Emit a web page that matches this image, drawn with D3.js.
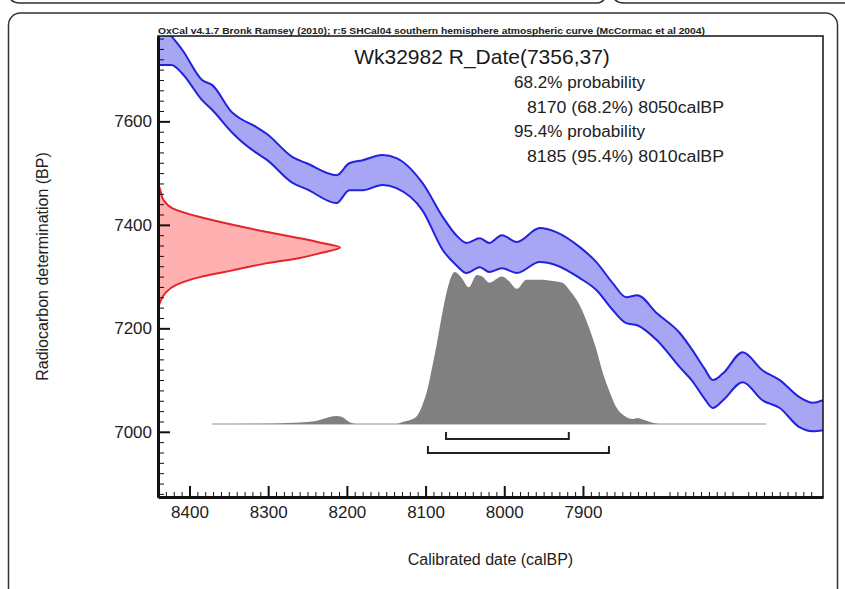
<!DOCTYPE html>
<html>
<head>
<meta charset="utf-8">
<script src="https://cdn.jsdelivr.net/npm/d3@7"></script>
<style>
body { margin: 0; background: #fff; }
svg { display: block; font-family: "Liberation Sans", Arial, sans-serif; }
</style>
</head>
<body>
<svg id="chart" width="845" height="589"></svg>
<script>
// calibration curve band (calBP -> BP upper / lower)
const curveYears = [8440, 8423, 8409, 8384, 8371, 8345, 8336, 8315, 8302, 8269, 8251, 8213, 8197, 8180, 8155, 8137, 8104, 8078, 8061, 8048, 8031, 8019, 8003, 7984, 7955, 7934, 7904, 7883, 7862, 7845, 7831, 7806, 7777, 7761, 7746, 7735, 7722, 7697, 7672, 7650, 7625, 7608, 7595];
const curveUpper = [7800, 7765, 7738, 7680, 7670, 7616, 7606, 7589, 7576, 7531, 7519, 7496, 7519, 7525, 7535, 7529, 7481, 7415, 7380, 7365, 7374, 7365, 7380, 7367, 7394, 7386, 7357, 7328, 7287, 7260, 7264, 7229, 7191, 7158, 7123, 7100, 7113, 7154, 7119, 7100, 7067, 7056, 7061];
const curveLower = [7709, 7709, 7692, 7641, 7622, 7577, 7564, 7539, 7526, 7481, 7469, 7442, 7467, 7467, 7477, 7471, 7428, 7351, 7322, 7307, 7318, 7309, 7316, 7307, 7328, 7322, 7297, 7274, 7235, 7210, 7206, 7177, 7125, 7098, 7065, 7046, 7061, 7096, 7061, 7046, 7009, 7001, 7003];

// radiocarbon measurement (BP, relative density)
const dateBP = [7478, 7470, 7448, 7432, 7415, 7400, 7386, 7374, 7365, 7356, 7346, 7336, 7326, 7312, 7299, 7284, 7268, 7249, 7240];
const dateDensity = [0, 0.01, 0.03, 0.08, 0.23, 0.41, 0.60, 0.78, 0.90, 1, 0.90, 0.78, 0.60, 0.41, 0.23, 0.10, 0.04, 0.01, 0];

// calibrated distribution (calBP, relative probability)
const calYears = [8371, 8290, 8260, 8239, 8222, 8213, 8206, 8197, 8188, 8137, 8129, 8120, 8111, 8104, 8098, 8091, 8086, 8078, 8070, 8063, 8054, 8045, 8035, 8028, 8019, 8003, 7996, 7984, 7972, 7955, 7936, 7926, 7917, 7904, 7892, 7883, 7875, 7866, 7857, 7847, 7837, 7831, 7822, 7803, 7667];
const calProb = [0, 0.004, 0.01, 0.02, 0.046, 0.053, 0.046, 0.013, 0, 0, 0.013, 0.026, 0.053, 0.125, 0.22, 0.39, 0.52, 0.75, 0.93, 1, 0.96, 0.90, 0.98, 0.97, 0.93, 0.97, 0.95, 0.89, 0.95, 0.95, 0.94, 0.93, 0.88, 0.78, 0.63, 0.49, 0.34, 0.21, 0.105, 0.053, 0.033, 0.04, 0.026, 0, 0];

// ranges drawn as brackets under the distribution
const range68 = [8074, 7918];
const range95 = [8097, 7867];

const xTicks = [8400, 8300, 8200, 8100, 8000, 7900];
const yTicks = [7000, 7200, 7400, 7600];

const headerText = "OxCal v4.1.7 Bronk Ramsey (2010); r:5 SHCal04 southern hemisphere atmospheric curve (McCormac et al 2004)";
const titleText = "Wk32982 R_Date(7356,37)";
const probLines = ["68.2% probability", "8170 (68.2%) 8050calBP", "95.4% probability", "8185 (95.4%) 8010calBP"];

const svg = d3.select("#chart");
const margin = {top: 36, right: 22, bottom: 92, left: 158};
const W = +svg.attr("width"), H = +svg.attr("height");
const innerW = W - margin.left - margin.right;
const innerH = H - margin.top - margin.bottom;

// outer panel borders (page furniture)
svg.append("path")
  .attr("d", "M8,-10 Q8,3 20,3 H597 Q606,3 606,-10")
  .attr("fill", "none").attr("stroke", "#333").attr("stroke-width", 1.5);
svg.append("path")
  .attr("d", "M612,-10 Q612,3 624,3 H845")
  .attr("fill", "none").attr("stroke", "#333").attr("stroke-width", 1.5);
svg.append("rect")
  .attr("x", 8.5).attr("y", 13).attr("width", 829).attr("height", 640).attr("rx", 12)
  .attr("fill", "none").attr("stroke", "#333").attr("stroke-width", 1.5);

const x = d3.scaleLinear().domain([8440, 7595]).range([0, innerW]);
const y = d3.scaleLinear().domain([6874, 7765]).range([innerH, 0]);

const g = svg.append("g").attr("transform", "translate(" + margin.left + "," + margin.top + ")");

g.append("clipPath").attr("id", "plotClip")
  .append("rect").attr("width", innerW).attr("height", innerH);

const plot = g.append("g").attr("clip-path", "url(#plotClip)");

// calibration band
const band = curveYears.map((d, i) => ({year: d, hi: curveUpper[i], lo: curveLower[i]}));
plot.append("path")
  .datum(band)
  .attr("fill", "#a6a6f4")
  .attr("d", d3.area().x(d => x(d.year)).y0(d => y(d.lo)).y1(d => y(d.hi)).curve(d3.curveMonotoneX));
["hi", "lo"].forEach(k => {
  plot.append("path")
    .datum(band)
    .attr("fill", "none").attr("stroke", "#2222dd").attr("stroke-width", 2)
    .attr("d", d3.line().x(d => x(d.year)).y(d => y(d[k])).curve(d3.curveMonotoneX));
});

// radiocarbon date on the y axis
const dens = d3.scaleLinear().domain([0, 1]).range([0, 182]);
const dateData = dateBP.map((d, i) => ({bp: d, p: dateDensity[i]}));
plot.append("path")
  .datum(dateData)
  .attr("fill", "#ffb0b0")
  .attr("d", d3.area().y(d => y(d.bp)).x0(0).x1(d => dens(d.p)).curve(d3.curveMonotoneY));
plot.append("path")
  .datum(dateData)
  .attr("fill", "none").attr("stroke", "#e3262b").attr("stroke-width", 2)
  .attr("d", d3.line().y(d => y(d.bp)).x(d => dens(d.p)).curve(d3.curveMonotoneY));

// calibrated distribution
const probBase = y(7015);
const prob = d3.scaleLinear().domain([0, 1]).range([probBase, probBase - 152]);
const calData = calYears.map((d, i) => ({year: d, p: calProb[i]}));
plot.append("line")
  .attr("x1", x(calYears[0])).attr("x2", x(calYears[calYears.length - 1]))
  .attr("y1", probBase).attr("y2", probBase)
  .attr("stroke", "#c8c8c8").attr("stroke-width", 2);
plot.append("path")
  .datum(calData)
  .attr("fill", "#808080")
  .attr("d", d3.area().x(d => x(d.year)).y0(probBase).y1(d => prob(d.p)).curve(d3.curveMonotoneX));

// range brackets
[[range68, 15], [range95, 29]].forEach(([r, off]) => {
  const by = probBase + off;
  g.append("path")
    .attr("d", "M" + x(r[0]) + "," + (by - 7) + "V" + by + "H" + x(r[1]) + "V" + (by - 7))
    .attr("fill", "none").attr("stroke", "#222").attr("stroke-width", 2);
});

// frame
g.append("rect").attr("width", innerW).attr("height", innerH)
  .attr("fill", "none").attr("stroke", "#111").attr("stroke-width", 1.5);

// axes: ticks point inwards
const xMinor = d3.range(7600, 8441, 10).filter(v => v % 100 !== 0);
const yMinor = d3.range(6880, 7761, 20).filter(v => v % 200 !== 0);

g.append("g").attr("transform", "translate(0," + innerH + ")")
  .call(d3.axisBottom(x).tickValues(xMinor).tickSize(-5).tickFormat(""))
  .call(a => a.select(".domain").remove());
g.append("g").call(d3.axisLeft(y).tickValues(yMinor).tickSize(-6).tickFormat(""))
  .call(a => a.select(".domain").remove());

const xAxisG = g.append("g").attr("transform", "translate(0," + innerH + ")")
  .call(d3.axisBottom(x).tickValues(xTicks).tickSizeInner(-11).tickSizeOuter(0).tickPadding(9).tickFormat(d3.format("d")));
const yAxisG = g.append("g")
  .call(d3.axisLeft(y).tickValues(yTicks).tickSizeInner(-12).tickSizeOuter(0).tickPadding(6).tickFormat(d3.format("d")));

[xAxisG, yAxisG].forEach(a => {
  a.select(".domain").attr("stroke", "#111").attr("stroke-width", 3);
  a.selectAll(".tick line").attr("stroke-width", 2);
  a.selectAll("text").attr("font-size", 17).attr("fill", "#222")
    .style("font-family", "'Liberation Sans', Arial, sans-serif");
});
g.selectAll(".tick line").attr("stroke", "#111");

// axis titles
g.append("text")
  .attr("x", innerW / 2).attr("y", innerH + 68)
  .attr("text-anchor", "middle").attr("font-size", 16).attr("fill", "#222")
  .text("Calibrated date (calBP)");
g.append("text")
  .attr("transform", "translate(" + (-110) + "," + (innerH / 2) + ") rotate(-90)")
  .attr("text-anchor", "middle").attr("font-size", 16).attr("fill", "#222")
  .text("Radiocarbon determination (BP)");

// header and labels
g.append("text")
  .attr("x", 0).attr("y", -2)
  .attr("font-size", 8.5).attr("font-weight", "bold").attr("fill", "#222")
  .attr("textLength", 547).attr("lengthAdjust", "spacingAndGlyphs")
  .text(headerText);
g.append("text")
  .attr("x", 324).attr("y", 28)
  .attr("text-anchor", "middle").attr("font-size", 21).attr("fill", "#1a1a1a")
  .text(titleText);
g.selectAll(".prob")
  .data(probLines)
  .enter().append("text").attr("class", "prob")
  .attr("x", (d, i) => i % 2 === 0 ? 356 : 369)
  .attr("y", (d, i) => 52 + i * 24.5)
  .attr("font-size", 16).attr("fill", "#222")
  .attr("textLength", (d, i) => i % 2 === 0 ? 131 : 197)
  .attr("lengthAdjust", "spacingAndGlyphs")
  .text(d => d);
</script>
</body>
</html>
